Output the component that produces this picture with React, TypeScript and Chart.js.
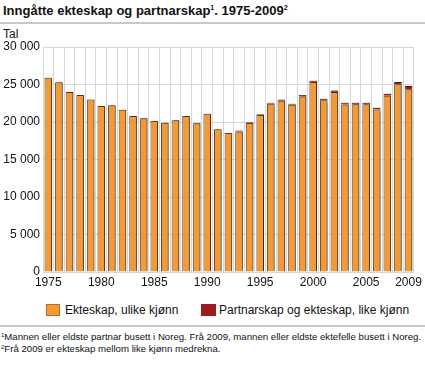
import React, { useEffect, useRef } from "react";
import { Chart, registerables } from "chart.js";

Chart.register(...registerables);

const years = [
  1975, 1976, 1977, 1978, 1979, 1980, 1981, 1982, 1983, 1984, 1985, 1986, 1987, 1988, 1989,
  1990, 1991, 1992, 1993, 1994, 1995, 1996, 1997, 1998, 1999, 2000, 2001, 2002, 2003, 2004,
  2005, 2006, 2007, 2008, 2009,
];

const ulikeKjonn = [
  25900, 25300, 24000, 23600, 23000, 22150, 22250, 21650, 20800, 20500, 20150, 19900, 20250,
  20800, 19850, 21100, 19050, 18550, 18750, 19880, 20930, 22430, 22850, 22300, 23410, 25330,
  22910, 24000, 22350, 22370, 22360, 21660, 23510, 25050, 24370,
];

const likeKjonn = [
  0, 0, 0, 0, 0, 0, 0, 0, 0, 0, 0, 0, 0, 0, 0, 0, 0, 0, 120, 100, 120, 130, 150, 130, 180,
  170, 190, 200, 210, 190, 200, 240, 260, 280, 420,
];

const shownYears = [1975, 1980, 1985, 1990, 1995, 2000, 2005, 2009];
const yTicks = { min: 0, max: 30000, step: 5000 };

const ORANGE = "#f39a37";
const RED = "#9b1b20";
const FONT = "'Liberation Sans', Arial, sans-serif";

const fmt = (v: number) => String(v).replace(/\B(?=(\d{3})+(?!\d))/g, " ");

const shadowPlugin = {
  id: "barShadow",
  beforeDatasetsDraw(chart: any) {
    const ctx = chart.ctx;
    ctx.save();
    ctx.shadowColor = "rgba(0,0,0,0.35)";
    ctx.shadowOffsetX = 1.5;
    ctx.shadowOffsetY = -1;
    ctx.shadowBlur = 1;
  },
  afterDatasetsDraw(chart: any) {
    chart.ctx.restore();
  },
};

export default function App() {
  const ref = useRef<HTMLCanvasElement | null>(null);

  useEffect(() => {
    if (!ref.current) return;
    const chart = new Chart(ref.current, {
      type: "bar",
      data: {
        labels: years.map(String),
        datasets: [
          {
            label: "Ekteskap, ulike kjønn",
            data: ulikeKjonn,
            backgroundColor: ORANGE,
            borderColor: "#6a4422",
            borderWidth: 1,
            barPercentage: 0.72,
            categoryPercentage: 1,
          },
          {
            label: "Partnarskap og ekteskap, like kjønn",
            data: likeKjonn,
            backgroundColor: RED,
            borderColor: "#5a1a14",
            borderWidth: { top: 1, left: 1, right: 1, bottom: 0 },
            barPercentage: 0.72,
            categoryPercentage: 1,
          },
        ],
      },
      options: {
        responsive: false,
        animation: false,
        layout: { padding: { top: 19, right: 10, left: 0, bottom: 0 } },
        plugins: { legend: { display: false }, tooltip: { enabled: false } },
        scales: {
          x: {
            stacked: true,
            grid: { color: "#d6d6d6", drawTicks: false, offset: true },
            border: { color: "#d6d6d6" },
            ticks: {
              autoSkip: false,
              maxRotation: 0,
              padding: 3,
              color: "#111",
              font: { family: FONT, size: 12 },
              callback: function (this: any, val: any) {
                const y = Number(this.getLabelForValue(val));
                return shownYears.includes(y) ? String(y) : "";
              },
            },
            afterFit: (s: any) => {
              s.height = 20;
            },
          },
          y: {
            stacked: true,
            min: yTicks.min,
            max: yTicks.max,
            grid: { color: "#d6d6d6", drawTicks: false },
            border: { color: "#d6d6d6" },
            ticks: {
              stepSize: yTicks.step,
              padding: 3,
              color: "#111",
              font: { family: FONT, size: 12 },
              callback: (v: any) => fmt(Number(v)),
            },
            afterFit: (s: any) => {
              s.width = 43;
            },
          },
        },
      },
      plugins: [shadowPlugin],
    });
    return () => chart.destroy();
  }, []);

  const sup: React.CSSProperties = { fontSize: "0.55em", verticalAlign: "super", lineHeight: 0 };
  const fsup: React.CSSProperties = { fontSize: 6, position: "relative", top: -3 };

  return (
    <div
      style={{
        position: "absolute",
        left: 0,
        top: 0,
        width: 425,
        height: 373,
        fontFamily: FONT,
        color: "#111",
        background: "#fff",
        overflow: "hidden",
      }}
    >
      <div style={{ position: "absolute", left: 3, top: 3, fontSize: 13, fontWeight: "bold", whiteSpace: "nowrap" }}>
        Inngåtte ekteskap og partnarskap<span style={sup}>1</span>. 1975-2009<span style={sup}>2</span>
      </div>
      <div style={{ position: "absolute", left: 0, top: 22, width: 425, height: 2, background: "#c8c8c8" }} />
      <div style={{ position: "absolute", left: 3, top: 27, fontSize: 12 }}>Tal</div>
      <canvas ref={ref} width={425} height={264} style={{ position: "absolute", left: 0, top: 28 }} />
      <div style={{ position: "absolute", left: 46, top: 304, width: 14, height: 12, background: ORANGE, border: "1px solid #b07030", boxSizing: "border-box" }} />
      <div style={{ position: "absolute", left: 65, top: 303, fontSize: 12, whiteSpace: "nowrap" }}>Ekteskap, ulike kjønn</div>
      <div style={{ position: "absolute", left: 201, top: 304, width: 15, height: 12, background: RED }} />
      <div style={{ position: "absolute", left: 219, top: 303, fontSize: 12, whiteSpace: "nowrap" }}>Partnarskap og ekteskap, like kjønn</div>
      <div style={{ position: "absolute", left: 0, top: 325, width: 425, height: 2, background: "#c8c8c8" }} />
      <div style={{ position: "absolute", left: 1, top: 331, fontSize: 9.65, whiteSpace: "nowrap", lineHeight: "12px" }}>
        <span style={fsup}>1</span>Mannen eller eldste partnar busett i Noreg. Frå 2009, mannen eller eldste ektefelle busett i Noreg.
      </div>
      <div style={{ position: "absolute", left: 1, top: 343, fontSize: 9.65, whiteSpace: "nowrap", lineHeight: "12px" }}>
        <span style={fsup}>2</span>Frå 2009 er ekteskap mellom like kjønn medrekna.
      </div>
    </div>
  );
}
